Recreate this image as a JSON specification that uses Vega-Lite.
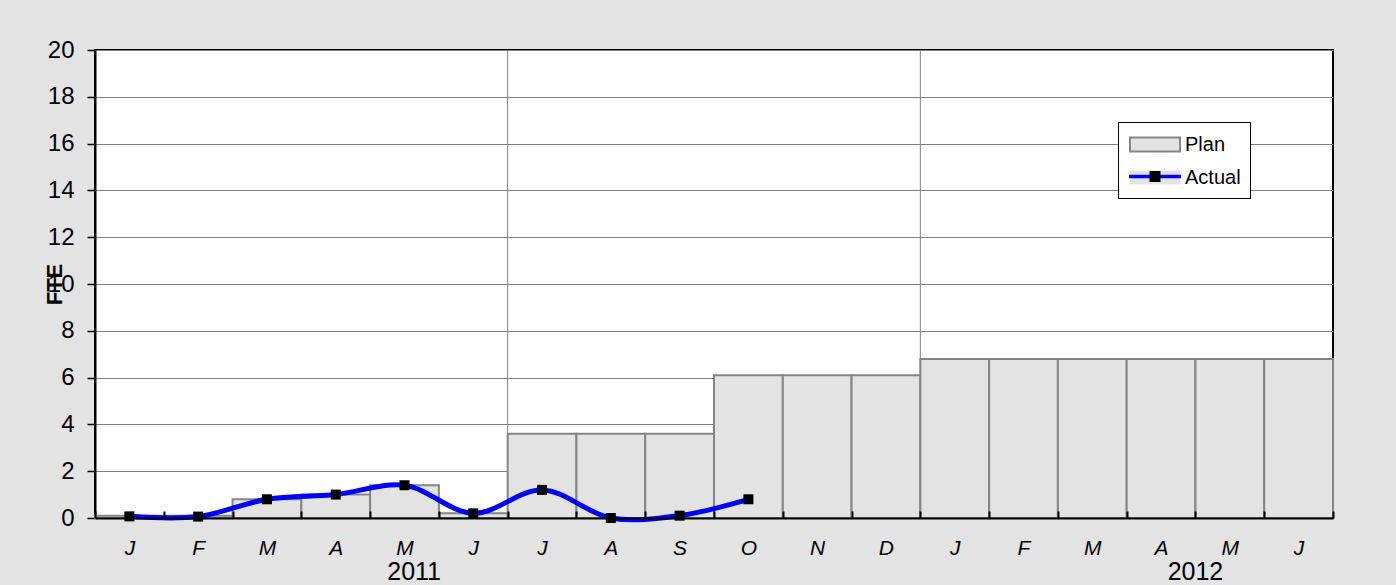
{
  "$schema": "https://vega.github.io/schema/vega-lite/v6.json",
  "width": 1238,
  "height": 468,
  "autosize": {"type": "none"},
  "padding": {"left": 95, "top": 50, "right": 63, "bottom": 67},
  "background": "#e3e3e3",
  "config": {
    "view": {"fill": "white", "stroke": "black", "strokeWidth": 2},
    "font": "Liberation Sans"
  },
  "resolve": {"scale": {"stroke": "independent"}},
  "data": {
    "values": [
      {"m": "2011-01", "plan": 0.1, "actual": 0.07},
      {"m": "2011-02", "plan": 0.1, "actual": 0.06},
      {"m": "2011-03", "plan": 0.8, "actual": 0.8},
      {"m": "2011-04", "plan": 1.0, "actual": 1.0},
      {"m": "2011-05", "plan": 1.4, "actual": 1.4},
      {"m": "2011-06", "plan": 0.2, "actual": 0.2},
      {"m": "2011-07", "plan": 3.6, "actual": 1.2},
      {"m": "2011-08", "plan": 3.6, "actual": 0.0},
      {"m": "2011-09", "plan": 3.6, "actual": 0.1},
      {"m": "2011-10", "plan": 6.1, "actual": 0.8},
      {"m": "2011-11", "plan": 6.1, "actual": null},
      {"m": "2011-12", "plan": 6.1, "actual": null},
      {"m": "2012-01", "plan": 6.8, "actual": null},
      {"m": "2012-02", "plan": 6.8, "actual": null},
      {"m": "2012-03", "plan": 6.8, "actual": null},
      {"m": "2012-04", "plan": 6.8, "actual": null},
      {"m": "2012-05", "plan": 6.8, "actual": null},
      {"m": "2012-06", "plan": 6.8, "actual": null}
    ]
  },
  "encoding": {
    "x": {
      "field": "m",
      "type": "nominal",
      "scale": {"paddingInner": 0, "paddingOuter": 0},
      "axis": {
        "title": null,
        "labelExpr": "['J','F','M','A','M','J','J','A','S','O','N','D'][toNumber(substring(datum.value,5,7))-1]",
        "labelFontSize": 21,
        "labelFontStyle": "italic",
        "labelColor": "black",
        "labelPadding": 26,
        "labelAngle": 0,
        "tickBand": "extent",
        "tickSize": -7,
        "tickWidth": 2,
        "tickColor": "black",
        "domainColor": "black",
        "domainWidth": 2,
        "grid": false,
        "zindex": 1
      }
    }
  },
  "layer": [
    {
      "data": {"values": [{"m": "2011-07"}, {"m": "2012-01"}]},
      "mark": {"type": "rule", "color": "#808080", "strokeWidth": 1},
      "encoding": {"x": {"field": "m", "type": "nominal", "bandPosition": 0}}
    },
    {
      "mark": {"type": "bar", "strokeWidth": 2},
      "encoding": {
        "y": {
          "field": "plan",
          "type": "quantitative",
          "scale": {"domain": [0, 20], "nice": false},
          "axis": {
            "title": "FTE",
            "values": [0, 2, 4, 6, 8, 10, 12, 14, 16, 18, 20],
            "grid": true,
            "gridColor": "#808080",
            "gridWidth": 1,
            "domainColor": "black",
            "domainWidth": 2,
            "tickColor": "black",
            "tickSize": 8,
            "tickWidth": 1.5,
            "labelFontSize": 24,
            "labelPadding": 13,
            "labelColor": "black",
            "titleFontSize": 22,
            "titleFontWeight": "bold",
            "titleColor": "black",
            "titleX": -41,
            "titleY": 234,
            "titleAngle": -90,
            "titleAlign": "center",
            "titleBaseline": "middle"
          }
        },
        "color": {
          "datum": "Plan",
          "scale": {"domain": ["Plan", "Actual"], "range": ["#e3e3e3", "transparent"]},
          "legend": {
            "orient": "none",
            "legendX": 1023,
            "legendY": 72,
            "title": null,
            "direction": "vertical",
            "fillColor": "white",
            "strokeColor": "black",
            "padding": 9,
            "symbolType": "M-2,-0.56h4v1.12h-4z",
            "symbolSize": 625,
            "symbolStrokeWidth": 2,
            "symbolOffset": 14.5,
            "labelOffset": 16.5,
            "rowPadding": 8,
            "labelFontSize": 20,
            "labelColor": "black",
            "zindex": 1
          }
        },
        "stroke": {
          "datum": "Plan",
          "scale": {"domain": ["Plan", "Actual"], "range": ["#858585", "transparent"]},
          "legend": {
            "orient": "none",
            "legendX": 1023,
            "legendY": 72,
            "title": null,
            "direction": "vertical",
            "fillColor": "white",
            "strokeColor": "black",
            "padding": 9,
            "symbolType": "M-2,-0.56h4v1.12h-4z",
            "symbolSize": 625,
            "symbolStrokeWidth": 2,
            "symbolOffset": 14.5,
            "labelOffset": 16.5,
            "rowPadding": 8,
            "labelFontSize": 20,
            "labelColor": "black",
            "zindex": 1
          }
        }
      }
    },
    {
      "transform": [{"filter": "isValid(datum.actual)"}],
      "mark": {"type": "line", "interpolate": "catmull-rom", "strokeWidth": 5},
      "encoding": {
        "y": {"field": "actual", "type": "quantitative", "title": "FTE"},
        "stroke": {
          "datum": "Actual",
          "scale": {"domain": ["_", "Actual"], "range": ["transparent", "#0000ff"]},
          "legend": {
            "orient": "none",
            "legendX": 1023,
            "legendY": 72,
            "title": null,
            "direction": "vertical",
            "padding": 9,
            "symbolType": "M-2,-0.06h4v0.12h-4z",
            "symbolSize": 625,
            "symbolStrokeWidth": 2,
            "symbolFillColor": "transparent",
            "symbolOffset": 14.5,
            "labelOffset": 16.5,
            "rowPadding": 8,
            "labelFontSize": 20,
            "labelOpacity": 0,
            "zindex": 2
          }
        }
      }
    },
    {
      "transform": [{"filter": "isValid(datum.actual)"}],
      "mark": {"type": "point", "shape": "square", "filled": true, "size": 100, "opacity": 1},
      "encoding": {
        "y": {"field": "actual", "type": "quantitative", "title": "FTE"},
        "fill": {
          "datum": "Actual",
          "scale": {"domain": ["__", "Actual"], "range": ["transparent", "#000000"]},
          "legend": {
            "orient": "none",
            "legendX": 1023,
            "legendY": 72,
            "title": null,
            "direction": "vertical",
            "padding": 9,
            "symbolType": "M-0.44,-0.44h0.88v0.88h-0.88z",
            "symbolSize": 625,
            "symbolStrokeWidth": 2,
            "symbolStrokeColor": "transparent",
            "symbolOffset": 14.5,
            "labelOffset": 16.5,
            "rowPadding": 8,
            "labelFontSize": 20,
            "labelOpacity": 0,
            "zindex": 3
          }
        }
      }
    },
    {
      "data": {"values": [{"m": "2011-05", "year": "2011"}]},
      "mark": {"type": "text", "fontSize": 25, "dy": 54, "baseline": "middle", "align": "center", "color": "black"},
      "encoding": {
        "x": {"field": "m", "type": "nominal", "bandPosition": 0.64},
        "y": {"datum": 0},
        "text": {"field": "year"}
      }
    },
    {
      "data": {"values": [{"m": "2012-05", "year": "2012"}]},
      "mark": {"type": "text", "fontSize": 25, "dy": 54, "baseline": "middle", "align": "center", "color": "black"},
      "encoding": {
        "x": {"field": "m", "type": "nominal", "bandPosition": 0},
        "y": {"datum": 0},
        "text": {"field": "year"}
      }
    }
  ]
}
